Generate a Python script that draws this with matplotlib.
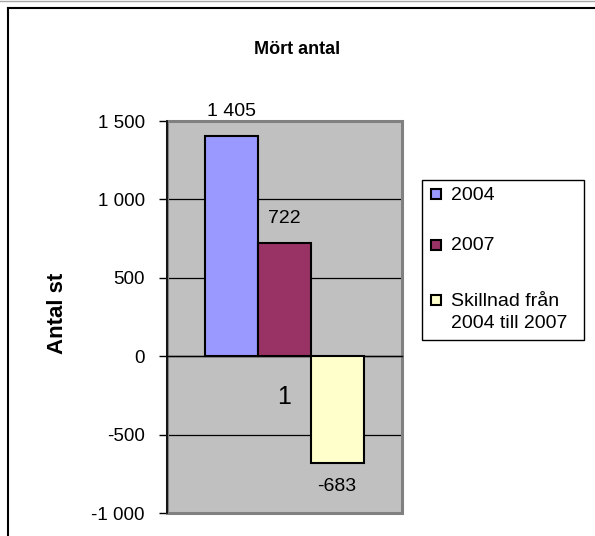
import matplotlib
matplotlib.use('Agg')
import matplotlib.pyplot as plt
from matplotlib.patches import Rectangle
from matplotlib.lines import Line2D

# ---- data ----
title = "Mört antal"
ylabel = "Antal st"
category = "1"
series = ["2004", "2007", "Skillnad från\n2004 till 2007"]
values = [1405, 722, -683]
value_labels = ["1 405", "722", "-683"]
colors = ["#9999FF", "#993366", "#FFFFCC"]
yticks = [-1000, -500, 0, 500, 1000, 1500]
ytick_labels = ["-1 000", "-500", "0", "500", "1 000", "1 500"]

plt.rcParams['font.family'] = ['Liberation Sans', 'DejaVu Sans']

W, H = 595, 536
fig = plt.figure(figsize=(W / 100, H / 100), dpi=100)
fig.patch.set_facecolor('white')


def fx(px):
    return px / W


def fy(py):
    return 1 - py / H


# chart-area border (only top/left visible in crop) and faint top line
fig.add_artist(Line2D([fx(8), fx(8)], [fy(8), 0], color='black', lw=1.5))
fig.add_artist(Line2D([fx(8), 1], [fy(8), fy(8)], color='black', lw=1.5))
fig.add_artist(Line2D([0, 1], [fy(0.5), fy(0.5)], color='#A8A8A8', lw=1))

ax = fig.add_axes([fx(167), fy(513), (402 - 167) / W, (513 - 121) / H])
ax.set_facecolor('#C0C0C0')
ax.set_ylim(yticks[0], yticks[-1])
half = 2.231
ax.set_xlim(-half, half)

n = len(values)
xpos = [i - (n - 1) / 2 for i in range(n)]
bars = ax.bar(xpos, values, width=1.0, color=colors, edgecolor='black',
              linewidth=1.5, zorder=3)

# value labels
for x, v, lbl in zip(xpos, values, value_labels):
    off = 24 if v >= 0 else -23
    ax.annotate(lbl, xy=(x, v), xytext=(0, off), textcoords='offset pixels',
                ha='center', va='center', fontsize=14, color='black',
                annotation_clip=False)

# grid
ax.set_yticks(yticks)
ax.set_yticklabels(ytick_labels)
ax.yaxis.grid(True, color='black', linewidth=0.9)
ax.set_axisbelow(True)

# spines
for s in ['top', 'right']:
    ax.spines[s].set_visible(False)
ax.spines['left'].set_color('black')
ax.spines['left'].set_linewidth(1.2)
ax.spines['left'].set_zorder(2.6)
ax.spines['bottom'].set_position(('data', 0))
ax.spines['bottom'].set_color('black')
ax.spines['bottom'].set_linewidth(1.0)

ax.add_patch(Rectangle((0, 0), 1, 1, transform=ax.transAxes, fill=False,
                       edgecolor='#808080', lw=2.2, clip_on=False, zorder=2.4))

ax.tick_params(axis='y', direction='out', length=6, width=1, color='black',
               labelsize=13.5, pad=10)
ax.set_xticks([-half, half])
ax.set_xticklabels(['', ''])
ax.tick_params(axis='x', which='major', direction='out', length=7, width=1,
               color='black')
ax.set_xticks([0], [category], minor=True)
ax.tick_params(axis='x', which='minor', length=0, pad=21, labelsize=18)

# title and axis label
fig.text(fx(297), fy(50), title, ha='center', va='center', fontsize=13,
         fontweight='bold')
fig.text(fx(57), fy(313), ylabel, ha='center', va='center', fontsize=16,
         fontweight='bold', rotation=90)

# legend (manual, to match Excel's layout)
fig.add_artist(Rectangle((fx(422), fy(340)), (584 - 422) / W, (340 - 180) / H,
                         transform=fig.transFigure, facecolor='white',
                         edgecolor='black', lw=1))
sw_y = [194, 245, 300]
for lbl, c, yc in zip(series, colors, sw_y):
    fig.add_artist(Rectangle((fx(431), fy(yc + 5)), 10 / W, 10 / H,
                             transform=fig.transFigure, facecolor=c,
                             edgecolor='black', lw=1.5))
    for k, line in enumerate(lbl.split('\n')):
        fig.text(fx(451), fy(yc + 1 + 23 * k), line, ha='left', va='center',
                 fontsize=14)

fig.savefig('out.png', dpi=100)
